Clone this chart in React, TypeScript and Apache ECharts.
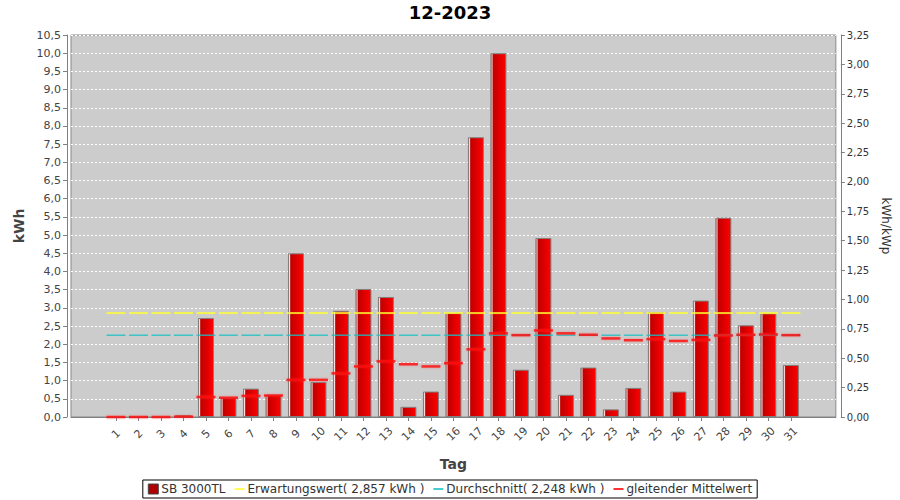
import React, { useEffect, useRef } from "react";
import * as echarts from "echarts";

const title = "12-2023";
const days = ["1","2","3","4","5","6","7","8","9","10","11","12","13","14","15","16","17","18","19","20","21","22","23","24","25","26","27","28","29","30","31"];
const production = [0, 0, 0, 0.05, 2.72, 0.53, 0.78, 0.61, 4.5, 0.96, 2.92, 3.52, 3.3, 0.28, 0.7, 2.86, 7.69, 10.0, 1.3, 4.92, 0.61, 1.36, 0.21, 0.8, 2.88, 0.7, 3.2, 5.48, 2.52, 2.85, 1.43];
const movingAverage = [0, 0, 0, 0.01, 0.55, 0.53, 0.58, 0.59, 1.02, 1.02, 1.2, 1.39, 1.53, 1.45, 1.39, 1.48, 1.86, 2.3, 2.25, 2.38, 2.3, 2.26, 2.16, 2.11, 2.14, 2.09, 2.12, 2.24, 2.26, 2.27, 2.25];
const expectedValue = 2.857;
const averageValue = 2.248;
const leftAxis = { min: 0, max: 10.5, interval: 0.5 };
const rightAxis = { min: 0, max: 3.25, interval: 0.25 };
const seriesNames = {
  bars: "SB 3000TL",
  expected: "Erwartungswert( 2,857 kWh )",
  average: "Durchschnitt( 2,248 kWh )",
  moving: "gleitender Mittelwert",
};

const FONT = "DejaVu Sans";
const PAD = 2;

export default function App() {
  const ref = useRef<HTMLDivElement>(null);
  useEffect(() => {
    if (!ref.current) return;
    const chart = echarts.init(ref.current, null, { renderer: "svg" });
    const blanks = Array(PAD).fill("");
    const cats = [...blanks, ...days, ...blanks];
    const padNull = (arr: any[]) => [...Array(PAD).fill(null), ...arr, ...Array(PAD).fill(null)];
    const barData = padNull(production.map((v) => (v === 0 ? null : v)));
    const expData = padNull(days.map(() => expectedValue));
    const avgData = padNull(days.map(() => averageValue));
    const movData = padNull(movingAverage);
    const lineIcon = "path://M0,0H10V2H0Z";

    chart.setOption({
      animation: false,
      backgroundColor: "#ffffff",
      textStyle: { fontFamily: FONT },
      title: {
        text: title,
        left: "center",
        top: 3,
        padding: 0,
        textStyle: { fontFamily: FONT, fontSize: 18, fontWeight: "bold", color: "#000" },
      },
      legend: {
        bottom: 2,
        left: "center",
        backgroundColor: "#fff",
        borderColor: "#000",
        borderWidth: 1,
        borderRadius: 0,
        padding: [3, 5, 3, 5],
        itemGap: 9,
        itemWidth: 10,
        itemHeight: 10,
        textStyle: { fontFamily: FONT, fontSize: 12, color: "#333", padding: [0, 0, 0, -2] },
        selectedMode: false,
        data: [
          { name: seriesNames.bars, icon: "rect", itemStyle: { color: "#b00000", borderColor: "#444", borderWidth: 1 } },
          { name: seriesNames.expected, icon: lineIcon, itemStyle: { color: "#ffff33" } },
          { name: seriesNames.average, icon: lineIcon, itemStyle: { color: "#18c0c4" } },
          { name: seriesNames.moving, icon: lineIcon, itemStyle: { color: "#ff0000" } },
        ],
      },
      grid: {
        left: 71,
        right: 62,
        top: 35,
        bottom: 83,
        show: true,
        backgroundColor: "#cccccc",
        borderColor: "#888888",
        borderWidth: 1,
      },
      xAxis: {
        type: "category",
        data: cats,
        boundaryGap: false,
        offset: 4,
        name: "Tag",
        nameLocation: "middle",
        nameGap: 36,
        nameTextStyle: { fontFamily: FONT, fontSize: 14, fontWeight: "bold", color: "#444" },
        axisLine: { show: true, lineStyle: { color: "#808080" } },
        axisTick: {
          show: true,
          length: 4,
          interval: (i: number) => i >= PAD && i < PAD + days.length,
          lineStyle: { color: "#808080" },
        },
        axisLabel: {
          interval: 0,
          rotate: 45,
          margin: 13,
          align: "center",
          verticalAlign: "middle",
          fontFamily: FONT,
          fontSize: 11,
          color: "#444",
        },
        splitLine: { show: false },
      },
      yAxis: [
        {
          type: "value",
          min: leftAxis.min,
          max: leftAxis.max,
          interval: leftAxis.interval,
          offset: 4,
          name: "kWh",
          nameLocation: "middle",
          nameGap: 38,
          nameTextStyle: { fontFamily: FONT, fontSize: 14, fontWeight: "bold", color: "#444" },
          axisLine: { show: true, lineStyle: { color: "#808080" } },
          axisTick: { show: true, length: 4, lineStyle: { color: "#808080" } },
          axisLabel: {
            margin: 6,
            fontFamily: FONT,
            fontSize: 11,
            color: "#444",
            formatter: (v: number) => v.toFixed(1).replace(".", ","),
          },
          splitLine: { show: true, lineStyle: { color: "#ffffff", type: [2, 2], width: 1 } },
        },
        {
          type: "value",
          min: rightAxis.min,
          max: rightAxis.max,
          interval: rightAxis.interval,
          position: "right",
          offset: 5,
          name: "kWh/kWp",
          nameLocation: "middle",
          nameGap: 28,
          nameRotate: -90,
          nameTextStyle: { fontFamily: FONT, fontSize: 12, color: "#333" },
          axisLine: { show: true, lineStyle: { color: "#808080" } },
          axisTick: { show: true, length: 4, lineStyle: { color: "#808080" } },
          axisLabel: {
            margin: 6,
            fontFamily: FONT,
            fontSize: 10,
            color: "#333",
            formatter: (v: number) => v.toFixed(2).replace(".", ","),
          },
          splitLine: { show: false },
        },
      ],
      series: [
        {
          name: seriesNames.bars,
          type: "bar",
          data: barData,
          barWidth: 16,
          silent: true,
          itemStyle: {
            borderColor: "#808080",
            borderWidth: 1,
            color: {
              type: "linear",
              x: 0, y: 0, x2: 1, y2: 0,
              colorStops: [
                { offset: 0, color: "#c02020" },
                { offset: 0.07, color: "#ffe0e0" },
                { offset: 0.15, color: "#c00000" },
                { offset: 1, color: "#ff0000" },
              ],
            },
          },
        },
        {
          name: seriesNames.expected,
          type: "scatter",
          data: expData,
          symbol: "rect",
          symbolSize: [19, 2],
          silent: true,
          itemStyle: { color: "#ffff33" },
        },
        {
          name: seriesNames.average,
          type: "scatter",
          data: avgData,
          symbol: "rect",
          symbolSize: [19, 1.5],
          silent: true,
          itemStyle: { color: "#18c0c4" },
        },
        {
          name: seriesNames.moving,
          type: "scatter",
          data: movData,
          symbol: "rect",
          symbolSize: [19, 2.5],
          silent: true,
          itemStyle: { color: "#ff0000", shadowBlur: 2, shadowColor: "rgba(255,60,60,0.5)" },
        },
      ],
    });
    return () => chart.dispose();
  }, []);
  return (
    <div
      ref={ref}
      style={{ position: "fixed", left: 0, top: 0, width: 900, height: 500 }}
    />
  );
}
